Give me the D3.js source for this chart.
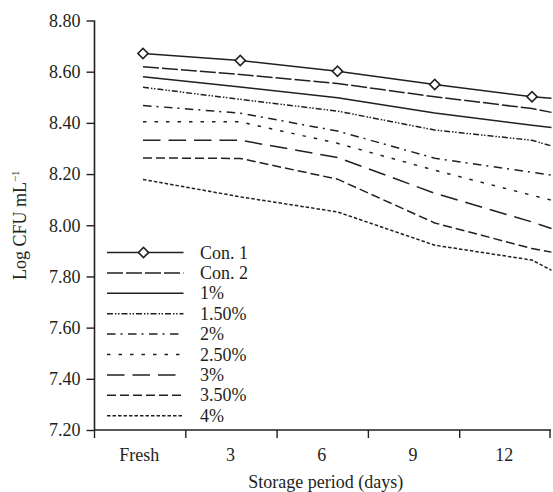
<!DOCTYPE html>
<html>
<head>
<meta charset="utf-8">
<script src="https://cdn.jsdelivr.net/npm/d3@7"></script>
<style>
  body { margin: 0; background: #fff; }
  svg { display: block; font-family: "Liberation Serif", "DejaVu Serif", serif; }
</style>
</head>
<body>
<div id="chart"></div>
<script>
// Category labels on the x axis
const categories = ["Fresh", "3", "6", "9", "12"];
// Storage days where the lines are sampled (last one is the right edge of the frame)
const lineDays = [0, 3, 6, 9, 12, 12.6];
const yTicks = [7.2, 7.4, 7.6, 7.8, 8.0, 8.2, 8.4, 8.6, 8.8];

const seriesNames = ["Con. 1", "Con. 2", "1%", "1.50%", "2%", "2.50%", "3%", "3.50%", "4%"];
const con1 = [8.671, 8.644, 8.602, 8.550, 8.502, 8.496];
const con2 = [8.619, 8.589, 8.554, 8.502, 8.456, 8.441];
const pct1 = [8.580, 8.540, 8.498, 8.439, 8.391, 8.382];
const pct15 = [8.539, 8.492, 8.446, 8.372, 8.332, 8.310];
const pct2 = [8.468, 8.438, 8.368, 8.262, 8.207, 8.196];
const pct25 = [8.404, 8.404, 8.320, 8.215, 8.117, 8.098];
const pct3 = [8.332, 8.332, 8.265, 8.125, 8.013, 7.987];
const pct35 = [8.263, 8.261, 8.180, 8.009, 7.909, 7.895];
const pct4 = [8.179, 8.111, 8.052, 7.922, 7.864, 7.824];
const seriesValues = [con1, con2, pct1, pct15, pct2, pct25, pct3, pct35, pct4];

const dashes = [null, "16,3", null, "6,2,1.5,1.5,1.5,2", "8.5,5,2,5.5", "3.5,8", "17.5,8", "9,4", "3.5,2"];

function drawChart(width, height) {
  const marginTop = 20.5;
  const marginRight = 2;
  const marginBottom = 62;
  const marginLeft = 94.5;
  const ink = "#231f20";
  const font = "Liberation Serif";
  const fontSize = 18;

  const svg = d3.create("svg")
    .attr("width", width)
    .attr("height", height)
    .attr("viewBox", [0, 0, width, height]);

  const plotRight = width - marginRight;
  const plotBottom = height - marginBottom;

  // band scale for the category axis, linear one for the lines
  const xBand = d3.scaleBand().domain(categories).range([marginLeft, plotRight]).padding(0);
  const x = d3.scaleLinear().domain([0, 12]).range([143, 532]);
  const y = d3.scaleLinear().domain([7.2, 8.8]).range([plotBottom, marginTop]);

  // y axis
  svg.append("g")
    .attr("transform", `translate(${marginLeft},0)`)
    .call(d3.axisLeft(y).tickValues(yTicks).tickFormat(d3.format(".2f")).tickSize(8).tickPadding(6))
    .attr("font-family", font)
    .attr("font-size", fontSize)
    .call(g => g.select(".domain").attr("stroke", ink).attr("stroke-width", 1.6).attr("d", `M0,${marginTop}V${plotBottom}`))
    .call(g => g.selectAll(".tick line").attr("stroke", ink).attr("stroke-width", 1.4))
    .call(g => g.selectAll(".tick text").attr("fill", ink));

  // x axis: ticks at band boundaries, labels at band centres
  const gx = svg.append("g").attr("font-family", font).attr("font-size", fontSize);
  gx.append("line")
    .attr("x1", marginLeft).attr("x2", plotRight)
    .attr("y1", plotBottom).attr("y2", plotBottom)
    .attr("stroke", ink).attr("stroke-width", 1.6);
  const bounds = categories.map(c => xBand(c)).concat([plotRight - 1]);
  gx.selectAll(".xtick")
    .data(bounds)
    .join("line")
    .attr("x1", d => d).attr("x2", d => d)
    .attr("y1", plotBottom).attr("y2", plotBottom + 8)
    .attr("stroke", ink).attr("stroke-width", 1.4);
  gx.selectAll(".xlabel")
    .data(categories)
    .join("text")
    .attr("x", d => xBand(d) + xBand.bandwidth() / 2 - 1)
    .attr("y", plotBottom + 31)
    .attr("text-anchor", "middle")
    .attr("fill", ink)
    .text(d => d);

  // axis titles
  svg.append("text")
    .attr("x", (marginLeft + plotRight) / 2 + 3)
    .attr("y", height - 4)
    .attr("text-anchor", "middle")
    .attr("font-size", fontSize)
    .attr("fill", ink)
    .text("Storage period (days)");

  const yTitle = svg.append("text")
    .attr("transform", `translate(26,${(marginTop + plotBottom) / 2}) rotate(-90)`)
    .attr("text-anchor", "middle")
    .attr("font-size", fontSize)
    .attr("fill", ink);
  yTitle.append("tspan").text("Log CFU mL");
  yTitle.append("tspan").attr("dy", -7).attr("font-size", 11).text("\u22121");

  // lines
  const line = d3.line()
    .x((d, i) => x(lineDays[i]))
    .y(d => y(d));

  svg.append("g")
    .selectAll("path")
    .data(seriesValues)
    .join("path")
    .attr("fill", "none")
    .attr("stroke", ink)
    .attr("stroke-width", 1.5)
    .attr("stroke-dasharray", (d, i) => dashes[i])
    .attr("d", line);

  const diamond = d3.symbol().type(d3.symbolSquare).size(52);

  svg.append("g")
    .selectAll("path")
    .data(con1.slice(0, 5))
    .join("path")
    .attr("d", diamond)
    .attr("transform", (d, i) => `translate(${x(lineDays[i])},${y(d)}) rotate(45)`)
    .attr("fill", "#fff")
    .attr("stroke", ink)
    .attr("stroke-width", 1.6);

  // legend
  const legend = svg.append("g").attr("transform", "translate(107,252.5)");
  const rows = legend.selectAll("g")
    .data(seriesNames)
    .join("g")
    .attr("transform", (d, i) => `translate(0,${i * 20.4})`);
  rows.append("line")
    .attr("x1", 0).attr("x2", 76.5)
    .attr("stroke", ink)
    .attr("stroke-width", 1.5)
    .attr("stroke-dasharray", (d, i) => dashes[i]);
  rows.filter((d, i) => i === 0)
    .append("path")
    .attr("d", diamond)
    .attr("transform", "translate(36.5,0) rotate(45)")
    .attr("fill", "#fff")
    .attr("stroke", ink)
    .attr("stroke-width", 1.6);
  rows.append("text")
    .attr("x", 93)
    .attr("y", 6)
    .attr("font-size", fontSize)
    .attr("fill", ink)
    .text(d => d);

  return svg.node();
}

document.getElementById("chart").appendChild(drawChart(553, 492));
</script>
</body>
</html>
